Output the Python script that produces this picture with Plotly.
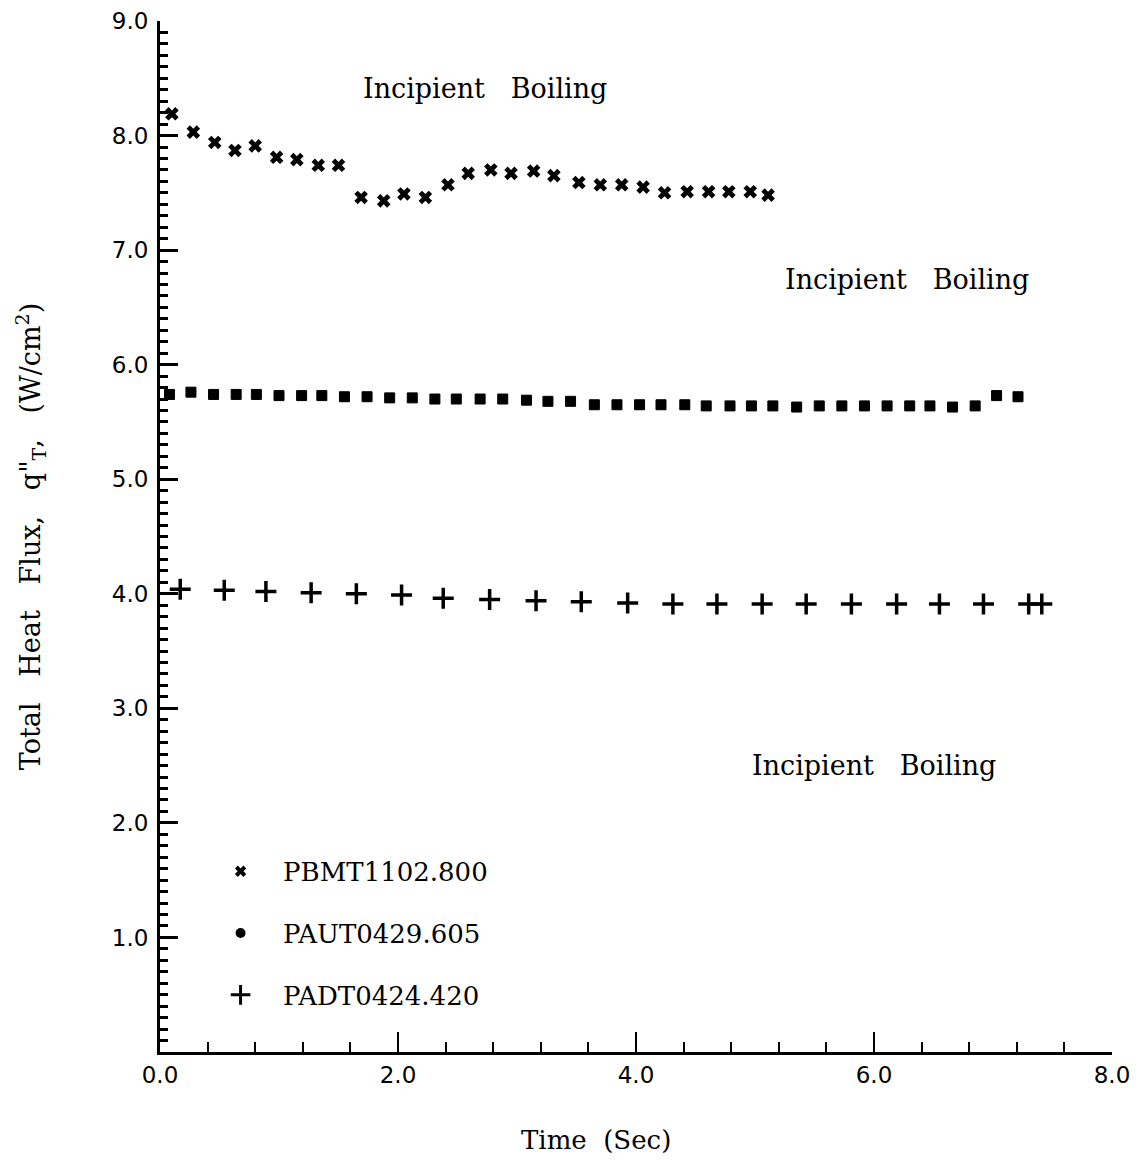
import plotly.graph_objects as go

# PBMT1102.800 (x markers)
t_pbmt = [0.10, 0.28, 0.46, 0.63, 0.80, 0.98, 1.15, 1.33, 1.50, 1.69, 1.88, 2.05, 2.23, 2.42,
          2.59, 2.78, 2.95, 3.14, 3.31, 3.52, 3.70, 3.88, 4.06, 4.24, 4.43, 4.61, 4.78, 4.96, 5.11]
q_pbmt = [8.19, 8.03, 7.94, 7.87, 7.91, 7.81, 7.79, 7.74, 7.74, 7.46, 7.43, 7.49, 7.46, 7.57,
          7.67, 7.70, 7.67, 7.69, 7.65, 7.59, 7.57, 7.57, 7.55, 7.50, 7.51, 7.51, 7.51, 7.51, 7.48]

# PAUT0429.605 (square markers)
t_paut = [0.08, 0.26, 0.45, 0.64, 0.81, 1.00, 1.19, 1.36, 1.55, 1.74, 1.93, 2.12, 2.31, 2.49,
          2.69, 2.88, 3.08, 3.26, 3.45, 3.65, 3.84, 4.03, 4.21, 4.41, 4.59, 4.79, 4.97, 5.15,
          5.35, 5.54, 5.73, 5.92, 6.11, 6.30, 6.47, 6.66, 6.85, 7.03, 7.21]
q_paut = [5.74, 5.76, 5.74, 5.74, 5.74, 5.73, 5.73, 5.73, 5.72, 5.72, 5.71, 5.71, 5.70, 5.70,
          5.70, 5.70, 5.69, 5.68, 5.68, 5.65, 5.65, 5.65, 5.65, 5.65, 5.64, 5.64, 5.64, 5.64,
          5.63, 5.64, 5.64, 5.64, 5.64, 5.64, 5.64, 5.63, 5.64, 5.73, 5.72]

# PADT0424.420 (plus markers)
t_padt = [0.17, 0.54, 0.89, 1.27, 1.65, 2.03, 2.38, 2.77, 3.16, 3.54, 3.93, 4.31, 4.68, 5.06,
          5.43, 5.81, 6.19, 6.55, 6.92, 7.30, 7.41]
q_padt = [4.04, 4.03, 4.02, 4.01, 4.00, 3.99, 3.96, 3.95, 3.94, 3.93, 3.92, 3.91, 3.91, 3.91,
          3.91, 3.91, 3.91, 3.91, 3.91, 3.91, 3.91]

series_names = ["PBMT1102.800", "PAUT0429.605", "PADT0424.420"]

# annotations: (time, flux, text)
notes_t = [2.73, 6.28, 6.00]
notes_q = [8.41, 6.74, 2.50]
notes_text = ["Incipient\u00a0\u00a0\u00a0Boiling"] * 3

x_ticks = [0, 2, 4, 6, 8]
y_ticks = [1, 2, 3, 4, 5, 6, 7, 8, 9]

fig = go.Figure()

fig.add_trace(go.Scatter(x=t_pbmt, y=q_pbmt, mode="markers", showlegend=False,
                         marker=dict(symbol="x", size=12, color="black",
                                     line=dict(width=0))))
fig.add_trace(go.Scatter(x=t_paut, y=q_paut, mode="markers", showlegend=False,
                         marker=dict(symbol="square", size=10, color="black",
                                     line=dict(width=1, color="black"))))
fig.add_trace(go.Scatter(x=t_padt, y=q_padt, mode="markers", showlegend=False,
                         marker=dict(symbol="cross-thin", size=15, color="black",
                                     line=dict(width=3.5, color="black"))))

# legend entries
legend_markers = [
    dict(symbol="x", size=10, color="black", line=dict(width=0)),
    dict(symbol="circle", size=10, color="black"),
    dict(symbol="cross-thin", size=14, color="black", line=dict(width=3, color="black")),
]
for i, (nm, mk) in enumerate(zip(series_names, legend_markers)):
    fig.add_trace(go.Scatter(x=[None], y=[None], mode="markers", name=nm,
                             legendgroup=f"g{i}", marker=mk, showlegend=True))

for tx, qy, txt in zip(notes_t, notes_q, notes_text):
    fig.add_annotation(x=tx, y=qy, xref="x", yref="y", text=txt, showarrow=False,
                       font=dict(family="DejaVu Serif", size=27, color="black"))

# x-axis title (slightly left of centre in the original)
fig.add_annotation(x=0.458, y=-0.0854, xref="paper", yref="paper",
                   text="Time\u00a0\u00a0(Sec)", showarrow=False,
                   xanchor="center", yanchor="middle",
                   font=dict(family="DejaVu Serif", size=26, color="black"))

fig.update_xaxes(
    range=[0, 8], tickvals=x_ticks, tickformat=".1f", ticks="inside", ticklen=20,
    tickwidth=2, tickcolor="black", showline=True, linewidth=3, linecolor="black",
    showgrid=False, zeroline=False,
    minor=dict(tickmode="linear", tick0=0, dtick=0.4, ticks="inside", ticklen=10,
               tickwidth=2, tickcolor="black", showgrid=False),
    tickfont=dict(family="DejaVu Sans", size=23, color="black"),
)
fig.update_yaxes(
    range=[0, 9], tickvals=y_ticks, tickformat=".1f", ticks="inside", ticklen=18,
    tickwidth=3, tickcolor="black", showline=True, linewidth=3, linecolor="black",
    showgrid=False, zeroline=False,
    minor=dict(tickmode="linear", tick0=0, dtick=0.1, ticks="inside", ticklen=8,
               tickwidth=3, tickcolor="black", showgrid=False),
    tickfont=dict(family="DejaVu Sans", size=23, color="black"),
    ticklabelstandoff=4,
    title=dict(text="Total\u00a0\u00a0\u00a0Heat\u00a0\u00a0\u00a0Flux,\u00a0\u00a0\u00a0q\"<sub>T</sub>,\u00a0\u00a0\u00a0(W/cm<sup>2</sup>)",
               standoff=64, font=dict(family="DejaVu Serif", size=27, color="black")),
)

fig.update_layout(
    width=1142, height=1165,
    margin=dict(l=160, r=30, t=21, b=113, autoexpand=False),
    plot_bgcolor="white", paper_bgcolor="white",
    legend=dict(x=0.04, y=0.198, xanchor="left", yanchor="top",
                bgcolor="rgba(0,0,0,0)", itemwidth=75, tracegroupgap=25,
                traceorder="grouped",
                font=dict(family="DejaVu Serif", size=26, color="black")),
)

fig.write_html("out.html", config={"displayModeBar": False},
               post_script="document.body.style.margin='0';document.body.style.overflow='hidden';")
